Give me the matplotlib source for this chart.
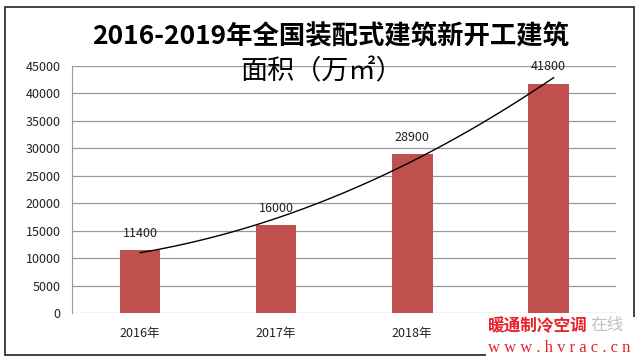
import matplotlib.pyplot as plt
from matplotlib.patches import Rectangle
import numpy as np

plt.rcParams['font.family'] = ['Noto Sans CJK SC', 'DejaVu Sans']

# data
years = ['2016年', '2017年', '2018年', '2019年']
area = [11400, 16000, 28900, 41800]
yticks = [0, 5000, 10000, 15000, 20000, 25000, 30000, 35000, 40000, 45000]

fig = plt.figure(figsize=(6.41, 3.61), dpi=100)
ax = fig.add_axes([0.1123, 0.133, 0.849, 0.684])

x = np.arange(len(years))
ax.bar(x, area, width=0.30, color='#C0504D', zorder=2)

# polynomial trendline (order 2), like the excel one
coef = np.polyfit(x, area, 2)
xs = np.linspace(0, 3.04, 100)
ax.plot(xs, np.polyval(coef, xs), color='black', lw=1, zorder=3)

for xi, v in zip(x, area):
    ax.annotate(str(v), (xi, v), xytext=(0, 12), textcoords='offset points',
                ha='center', va='center', fontsize=9, color='#222222')

ax.set_xlim(-0.5, 3.5)
ax.set_ylim(0, 45000)
ax.set_yticks(yticks)
ax.set_xticks(x)
ax.set_xticklabels(years)
ax.tick_params(axis='both', length=0, labelsize=9, colors='#222222')
ax.tick_params(axis='x', pad=10)
ax.tick_params(axis='y', pad=8)
# last category label sits under the watermark in the original
ax.get_xticklabels()[-1].set_visible(False)
ax.yaxis.grid(True, color='#999999', lw=0.9, zorder=0)
ax.set_axisbelow(True)
for s in ['top', 'right', 'bottom']:
    ax.spines[s].set_visible(False)
ax.spines['left'].set_color('#999999')
ax.set_facecolor('none')

# title, two lines
fig.text(0.515, 0.897, '2016-2019年全国装配式建筑新开工建筑', ha='center', va='center',
         fontsize=19, fontweight='bold', color='black')
fig.text(0.502, 0.80, '面积（万㎡）', ha='center', va='center',
         fontsize=19.5, color='black')

# outer frame
fig.add_artist(Rectangle((5 / 641, 1 - 355 / 361), 629 / 641, 348 / 361,
                         transform=fig.transFigure, fill=False,
                         edgecolor='#222222', lw=1.2))
# white patch behind the watermark
fig.add_artist(Rectangle((486 / 641, 0), 155 / 641, 44 / 361,
                         transform=fig.transFigure, facecolor='white',
                         edgecolor='none'))

# watermark
fig.text(0.762, 0.097, '暖通制冷空调', ha='left', va='center', fontsize=12,
         fontweight='bold', color='#E8202A')
fig.text(0.921, 0.097, '在线', ha='left', va='center', fontsize=12,
         color='#c0c0c0')
fig.text(0.762, 0.035, 'w w w . h v r a c . c n', ha='left', va='center',
         fontsize=12, family='Liberation Serif', color='#E8202A')

fig.savefig('out.png', dpi=100)
